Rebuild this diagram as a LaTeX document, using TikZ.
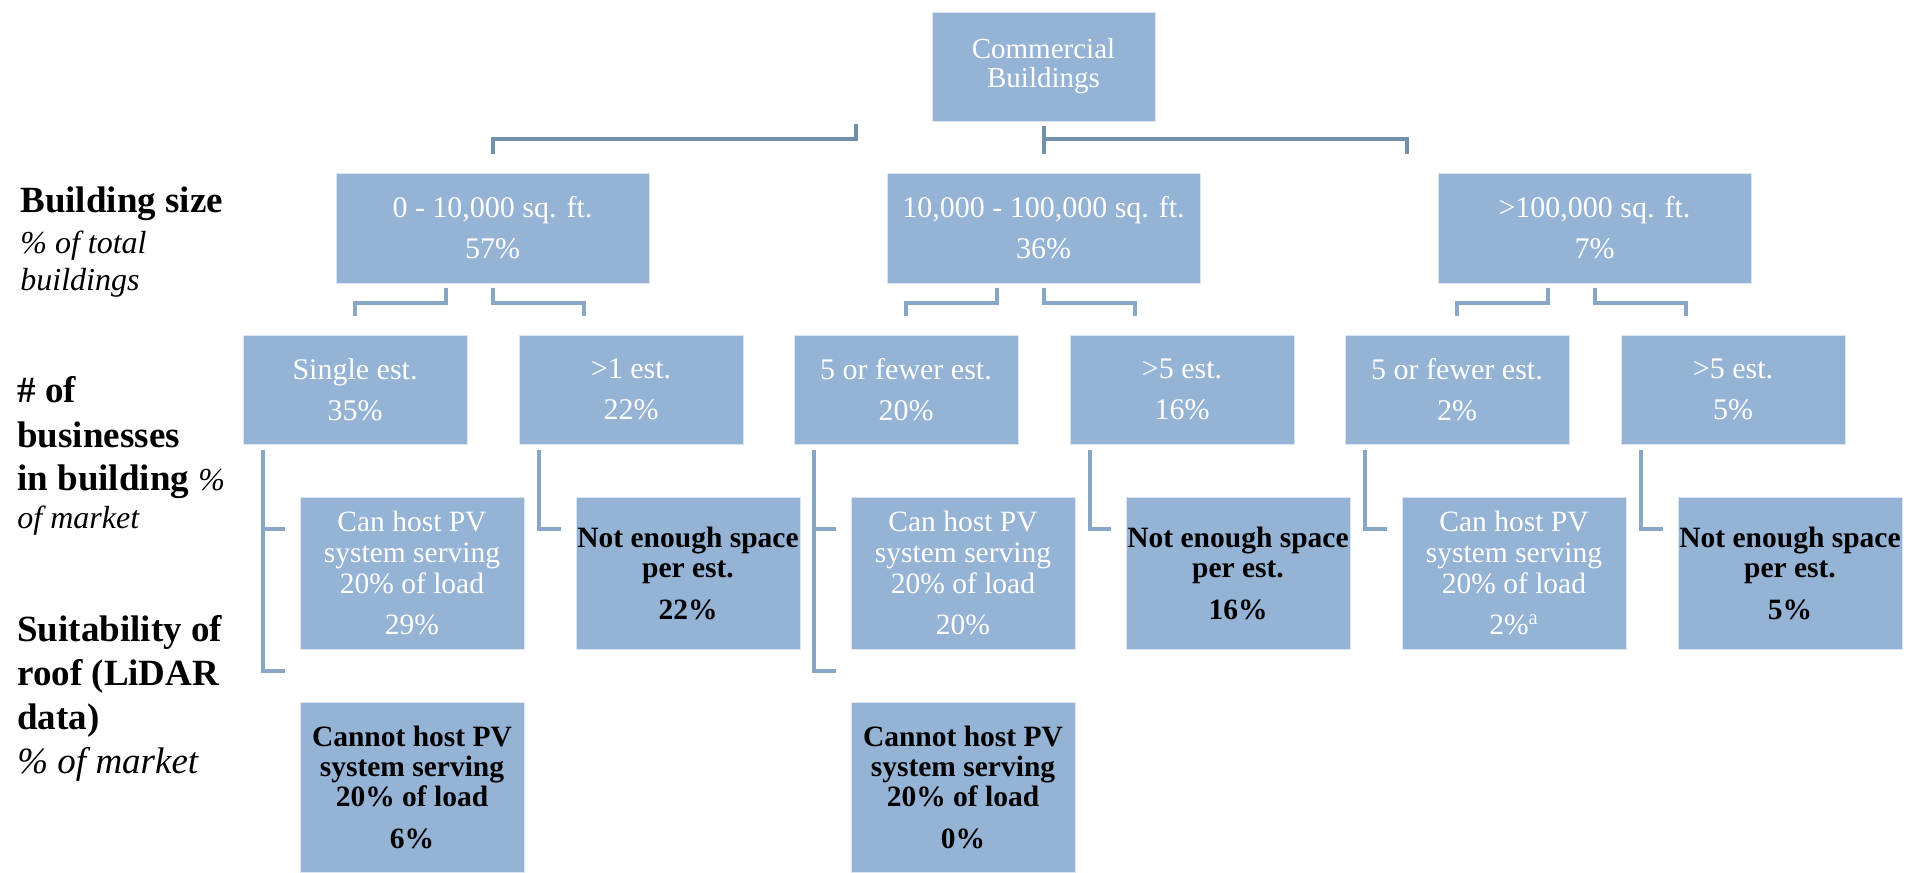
\documentclass[tikz,border=0pt]{standalone}
\usepackage{fontspec}
\setmainfont{LiberationSerif}[Extension=.ttf, UprightFont=*-Regular, BoldFont=*-Bold, ItalicFont=*-Italic, BoldItalicFont=*-BoldItalic]
\usetikzlibrary{calc}
\definecolor{boxfill}{HTML}{95B3D5}
\definecolor{boxedge}{HTML}{DCE6F2}
\definecolor{toplinecol}{HTML}{7191AA}
\definecolor{linecol}{HTML}{88A7C4}
\begin{document}
\begin{tikzpicture}[x=0.5pt,y=-0.5pt,
  box/.style={fill=boxfill, draw=boxedge, line width=0.5pt, inner sep=0pt, align=center, minimum width=112pt, minimum height=#1},
  wtxt/.style={text=white},
  btxt/.style={text=black, font=\fontsize{14.75}{15}\selectfont\bfseries},
  topln/.style={draw=toplinecol, line width=2pt},
  ln/.style={draw=linecol, line width=2pt},
  lblb/.style={anchor=base west, inner sep=0pt, font=\fontsize{18.5}{18.5}\selectfont\bfseries},
  lbli/.style={anchor=base west, inner sep=0pt, font=\fontsize{16}{16}\selectfont\itshape}
]
\useasboundingbox (0,0) rectangle (1907,873);

% root
\node[box=54.5pt, minimum width=111.5pt, wtxt, font=\fontsize{14.5}{14.5}\selectfont] (root) at (1043.5,66.5) {Commercial\\Buildings};

% building size level
\node[box=55pt, minimum width=156.5pt, wtxt, font=\fontsize{15}{20.5}\selectfont] (s1) at (492.5,228) {0 - 10,000 sq. ft.\\57\%};
\node[box=55pt, minimum width=156.5pt, wtxt, font=\fontsize{15}{20.5}\selectfont] (s2) at (1043.5,228) {10,000 - 100,000 sq. ft.\\36\%};
\node[box=55pt, minimum width=156.5pt, wtxt, font=\fontsize{15}{20.5}\selectfont] (s3) at (1594.5,228) {>100,000 sq. ft.\\7\%};

% businesses level
\tikzset{btext/.style={box=54.5pt, wtxt, font=\fontsize{15}{20.5}\selectfont}}
\node[btext] (b1) at (355,389.5) {Single est.\\35\%};
\node[btext] (b2) at (631,389.5) {>1 est.\\22\%};
\node[btext] (b3) at (906,389.5) {5 or fewer est.\\20\%};
\node[btext] (b4) at (1182,389.5) {>5 est.\\16\%};
\node[btext] (b5) at (1457,389.5) {5 or fewer est.\\2\%};
\node[btext] (b6) at (1733,389.5) {>5 est.\\5\%};

% suitability level
\tikzset{ctext/.style={box=76pt, wtxt, font=\fontsize{14.75}{15.5}\selectfont}}
\node[ctext] (c1) at (412,573) {Can host PV\\system serving\\20\% of load\\[5pt]29\%};
\node[box=76pt, btxt] (c2) at (688,573) {Not enough space\\per est.\\[6pt]22\%};
\node[ctext] (c3) at (963,573) {Can host PV\\system serving\\20\% of load\\[5pt]20\%};
\node[box=76pt, btxt] (c4) at (1238,573) {Not enough space\\per est.\\[6pt]16\%};
\node[ctext] (c5) at (1514,573) {Can host PV\\system serving\\20\% of load\\[5pt]2\%\textsuperscript{a}};
\node[box=76pt, btxt] (c6) at (1790,573) {Not enough space\\per est.\\[6pt]5\%};

\node[box=85pt, btxt] (d1) at (412,787) {Cannot host PV\\system serving\\20\% of load\\[6pt]6\%};
\node[box=85pt, btxt] (d2) at (963,787) {Cannot host PV\\system serving\\20\% of load\\[6pt]0\%};

% left labels
\node[lblb] (lb1) at (20,212) {Building size};
\node[lbli] (lb2) at (20,253) {\% of total};
\node[lbli] (lb3) at (20,290) {buildings};
\node[lblb] (lb4) at (17,402) {\# of};
\node[lblb] (lb5) at (17,447) {businesses};
\node[lblb] (lb6) at (17,490) {in building {\fontsize{16}{16}\selectfont\mdseries\itshape\%}};
\node[lbli] (lb7) at (17,528) {of market};
\node[lblb] (lb8) at (17,641) {Suitability of};
\node[lblb] (lb9) at (17,685) {roof (LiDAR};
\node[lblb] (lb10) at (17,729) {data)};
\node[lbli, font=\fontsize{18.5}{18.5}\selectfont\itshape] (lb11) at (17,773) {\% of market};

% top connectors
\draw[topln] ($(root.south)+(0,4)$) -- ($(s2.north)+(0,-19)$);
\draw[topln] ($(root.south)+(0,17)$) -| ($(s3.north)+(-188,-19)$);
\draw[topln] ($(root.south)+(-187.5,2)$) -- ++(0,15) -| ($(s1.north)+(0,-19)$);

% level 1 to level 2
\draw[ln] ($(s1.south)+(-47,4)$) -- ++(0,15) -| ($(b1.north)+(0,-19)$);
\draw[ln] ($(s1.south)+(0,4)$) -- ++(0,15) -| ($(b2.north)+(-47.5,-19)$);
\draw[ln] ($(s2.south)+(-47,4)$) -- ++(0,15) -| ($(b3.north)+(0,-19)$);
\draw[ln] ($(s2.south)+(0,4)$) -- ++(0,15) -| ($(b4.north)+(-47.5,-19)$);
\draw[ln] ($(s3.south)+(-47,4)$) -- ++(0,15) -| ($(b5.north)+(0,-19)$);
\draw[ln] ($(s3.south)+(0,4)$) -- ++(0,15) -| ($(b6.north)+(-47.5,-19)$);

% level 2 to level 3/4
\draw[ln] ($(b1.south)+(-92,5)$) |- ($(c1.north west)+(-15,32)$);
\draw[ln] ($(b1.south)+(-92,5)$) |- ($(d1.north west)+(-15,-31)$);
\draw[ln] ($(b2.south)+(-92,5)$) |- ($(c2.north west)+(-15,32)$);
\draw[ln] ($(b3.south)+(-92,5)$) |- ($(c3.north west)+(-15,32)$);
\draw[ln] ($(b3.south)+(-92,5)$) |- ($(d2.north west)+(-15,-31)$);
\draw[ln] ($(b4.south)+(-92,5)$) |- ($(c4.north west)+(-15,32)$);
\draw[ln] ($(b5.south)+(-92,5)$) |- ($(c5.north west)+(-15,32)$);
\draw[ln] ($(b6.south)+(-92,5)$) |- ($(c6.north west)+(-15,32)$);
\end{tikzpicture}
\end{document}
